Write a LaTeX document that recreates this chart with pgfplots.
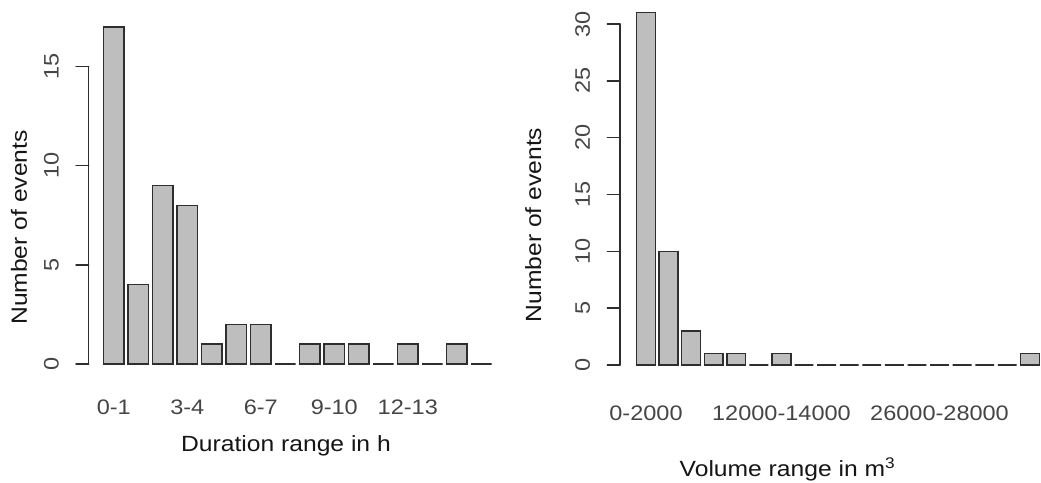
\documentclass[border=0pt]{standalone}
\usepackage{fontspec}
\setmainfont[FakeStretch=1.12]{Liberation Sans}
\usepackage{pgfplots}
\pgfplotsset{compat=1.18}
\definecolor{barfill}{HTML}{BEBEBE}
\definecolor{edge}{HTML}{2E2E2E}
\definecolor{ticktext}{HTML}{454545}
\definecolor{labeltext}{HTML}{151515}
\pgfplotsset{
  rstyle/.style={
    scale only axis, clip=false,
    /pgf/number format/assume math mode=true,
    axis lines*=left,
    x axis line style={draw=none},
    tick align=outside,
    major tick length=12.7pt,
    xtick style={draw=none},
    ytick style={draw=edge, line width=1.4pt, line cap=round},
    ymin=0,
    tick label style={font=\fontsize{21}{21}\selectfont, text=ticktext},
    yticklabel style={rotate=90, anchor=south, inner sep=0pt},
    xticklabel style={anchor=north, inner sep=0pt},
    yticklabel shift=17pt,
    label style={font=\fontsize{22}{22}\selectfont, text=labeltext, inner sep=0pt},
    ylabel style={anchor=center},
    xlabel style={anchor=base},
  },
  rbar/.style={ybar, bar width=0.833, fill=barfill, draw=edge, line width=1.4pt},
}
\begin{document}
\begin{tikzpicture}
\path (0pt,0pt) rectangle (1041pt,482pt);
% Left panel: duration
\begin{axis}[rstyle,
  at={(88.7pt,118pt)}, anchor=south west,
  width=417.1pt, height=356.8pt,
  xmin=-1.024, xmax=16, ymax=18,
  y axis line style={draw=edge, line width=1.4pt, line cap=round, shorten >=59.46pt},
  ytick={0,5,10,15},
  xtick={0,3,6,9,12},
  xticklabels={0-1,3-4,6-7,9-10,12-13},
  xticklabel shift=23pt,
  ylabel={Number of events},
  xlabel={Duration range in h},
  ylabel style={at={(axis description cs:-0.1671,0.3826)}},
  xlabel style={at={(axis description cs:0.473,-0.2458)}},
]
\addplot[rbar] coordinates {
 (0,17) (1,4) (2,9) (3,8) (4,1) (5,2) (6,2) (7,0)
 (8,1) (9,1) (10,1) (11,0) (12,1) (13,0) (14,1) (15,0)
};
\end{axis}
% Right panel: volume
\begin{axis}[rstyle,
  at={(620pt,117pt)}, anchor=south west,
  width=420pt, height=363.7pt,
  xmin=-1.151, xmax=17.45, ymax=32,
  y axis line style={draw=edge, line width=1.4pt, line cap=round, shorten >=22.73pt},
  ytick={0,5,10,15,20,25,30},
  xtick={0,6,13},
  xticklabels={0-2000,12000-14000,26000-28000},
  xticklabel shift=28pt,
  ylabel={Number of events},
  xlabel={Volume range in m\textsuperscript{3}},
  ylabel style={at={(axis description cs:-0.2064,0.385)}},
  xlabel style={at={(axis description cs:0.3988,-0.3052)}},
]
\addplot[rbar] coordinates {
 (0,31) (1,10) (2,3) (3,1) (4,1) (5,0) (6,1) (7,0) (8,0)
 (9,0) (10,0) (11,0) (12,0) (13,0) (14,0) (15,0) (16,0) (17,1)
};
\end{axis}
\end{tikzpicture}
\end{document}
